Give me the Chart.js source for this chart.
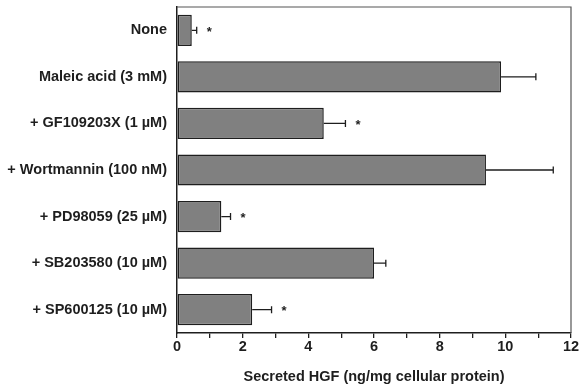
<!DOCTYPE html>
<html lang="en">
<head>
<meta charset="UTF-8">
<title>Secreted HGF</title>
<script src="https://cdn.jsdelivr.net/npm/chart.js@4"></script>
<style>
  html, body { margin: 0; padding: 0; background: #fff; }
  #wrap { width: 580px; height: 387px; }
</style>
</head>
<body>
<div id="wrap"><canvas id="chart" width="580" height="387"></canvas></div>
<script>
  const categories = ['None', 'Maleic acid (3 mM)', '+ GF109203X (1 \u00b5M)', '+ Wortmannin (100 nM)',
                      '+ PD98059 (25 \u00b5M)', '+ SB203580 (10 \u00b5M)', '+ SP600125 (10 \u00b5M)'];
  const hgf = [0.45, 9.87, 4.47, 9.41, 1.35, 6.0, 2.29];
  const sem = [0.15, 1.06, 0.66, 2.05, 0.28, 0.36, 0.59];
  const significant = [true, false, true, false, true, false, true];

  const ink = '#1e1e1e';
  const font = { family: '"Liberation Sans", Arial, sans-serif', size: 14.5, weight: 'bold' };

  // error bars, stars and the frame around the plot
  const extras = {
    id: 'extras',
    afterDatasetsDraw(chart) {
      const c = chart.ctx;
      const xs = chart.scales.x, ys = chart.scales.y;
      c.save();
      c.strokeStyle = ink;
      c.lineWidth = 1.3;
      hgf.forEach((v, i) => {
        const y = ys.getPixelForValue(i);
        const x0 = xs.getPixelForValue(v);
        const x1 = xs.getPixelForValue(v + sem[i]);
        c.beginPath();
        c.moveTo(x0, y); c.lineTo(x1, y);
        c.moveTo(x1, y - 3.5); c.lineTo(x1, y + 3.5);
        c.stroke();
        if (significant[i]) {
          c.fillStyle = ink;
          c.font = 'bold 13px "Liberation Sans", Arial, sans-serif';
          c.textAlign = 'center';
          c.textBaseline = 'middle';
          c.fillText('*', x1 + 12.5, y + 2);
        }
      });
      const a = chart.chartArea;
      c.strokeStyle = '#555';
      c.lineWidth = 1.2;
      c.beginPath();
      c.moveTo(a.left, a.top); c.lineTo(a.right, a.top); c.lineTo(a.right, a.bottom);
      c.stroke();
      c.restore();
    }
  };

  new Chart(document.getElementById('chart'), {
    type: 'bar',
    data: {
      labels: categories,
      datasets: [{
        data: hgf,
        backgroundColor: '#808080',
        borderColor: ink,
        borderWidth: 1.5,
        borderSkipped: false,
        barPercentage: 0.67,
        categoryPercentage: 1
      }]
    },
    options: {
      indexAxis: 'y',
      responsive: false,
      animation: false,
      layout: { padding: { top: 7, right: 9, left: 0, bottom: 0 } },
      plugins: { legend: { display: false }, tooltip: { enabled: false } },
      scales: {
        x: {
          min: 0, max: 12,
          afterFit(axis) { axis.height = 54; axis.paddingLeft = 0; axis.paddingRight = 0; },
          grid: { drawOnChartArea: false, tickLength: 5, color: ink, lineWidth: 1.3 },
          border: { display: true, color: ink, width: 1.5 },
          ticks: {
            stepSize: 1, autoSkip: false, maxRotation: 0, padding: 0,
            color: ink, font: font,
            callback: v => (v % 2 === 0 ? v : '')
          },
          title: {
            display: true, text: 'Secreted HGF (ng/mg cellular protein)',
            color: ink, font: font, padding: { top: 0, bottom: 1.5 }
          }
        },
        y: {
          afterFit(axis) { axis.width = 177; axis.paddingTop = 0; axis.paddingBottom = 0; },
          grid: { display: false, drawTicks: false },
          border: { display: true, color: ink, width: 1.5 },
          ticks: { color: ink, font: font, padding: 10 }
        }
      }
    },
    plugins: [extras]
  });
</script>
</body>
</html>
